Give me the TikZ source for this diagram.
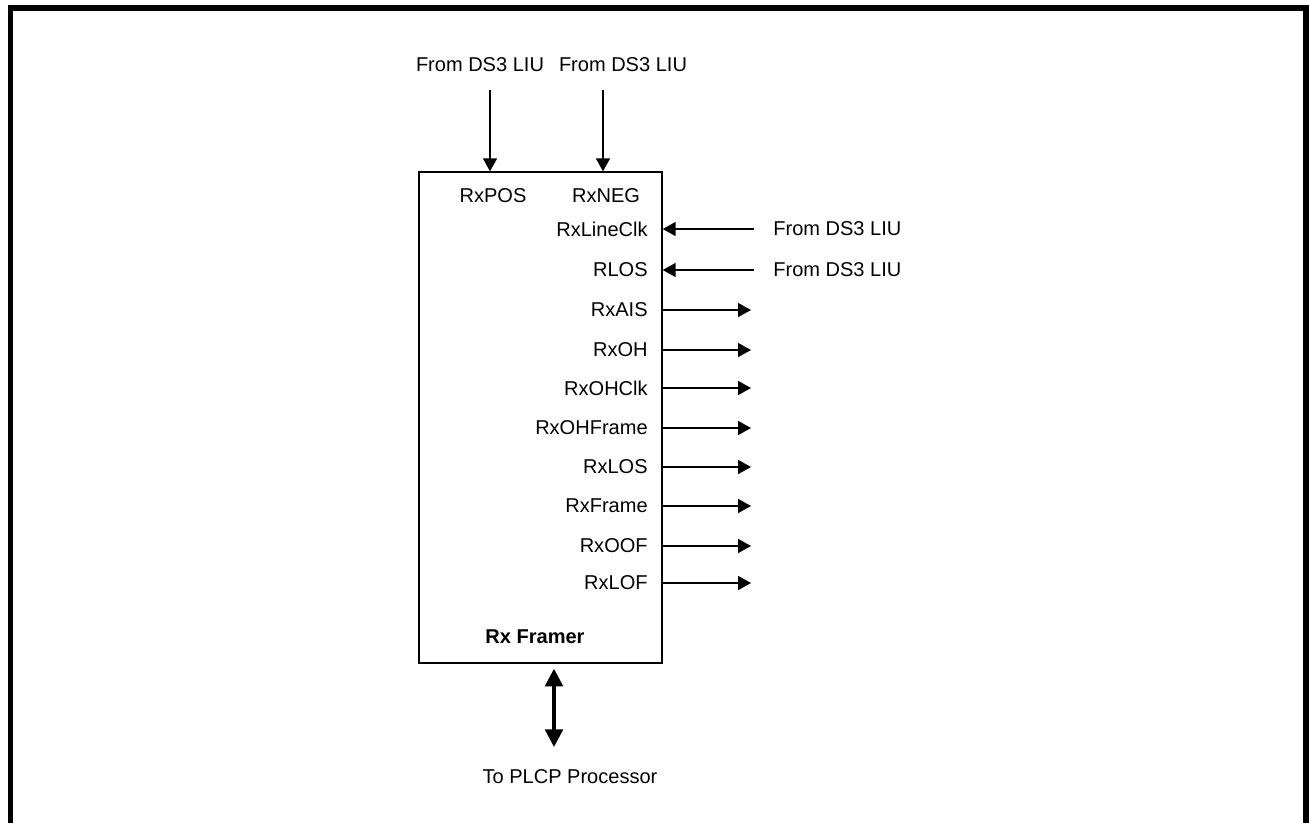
\documentclass[tikz,border=0pt]{standalone}
\usepackage{fontspec}
\setmainfont{Liberation Sans}
\usetikzlibrary{arrows.meta,positioning,calc}
\tikzset{
  sigln/.style={-{Triangle[length=7.4pt,width=8pt]}, line width=0.85pt},
  busln/.style={{Triangle[length=10pt,width=10pt]}-{Triangle[length=10pt,width=10pt]}, line width=1.9pt},
  framebox/.style={draw, line width=0.85pt, minimum width=4.86cm, minimum height=9.82cm},
  pin/.style={inner sep=0pt},
}
\begin{document}
\fontsize{11.4}{13.7}\selectfont
\begin{tikzpicture}[x=0.02cm,y=-0.02cm]
  \useasboundingbox (0,0) rectangle (1309,822);
  % outer frame, open at the bottom
  \draw[line width=3.4pt] (10.5,840) -- (10.5,8) -- (1306,8) -- (1306,840);
  % the framer block
  \node[framebox] (framer) at (540.5,417.5) {};
  \node[pin,font=\bfseries] (title) at (535,637) {Rx Framer};
  % line inputs from the top
  \node[pin] (posin) at (480,65) {From DS3 LIU};
  \node[pin] (negin) at (623,65) {From DS3 LIU};
  \node[pin] (pos) at (493,196) {RxPOS};
  \node[pin] (neg) at (606,196) {RxNEG};
  \coordinate (posstart) at (490,90);
  \coordinate (negstart) at (603,90);
  \draw[sigln] (posstart) -- (posstart |- framer.north);
  \draw[sigln] (negstart) -- (negstart |- framer.north);
  % inputs from the right
  \foreach \name/\y in {RxLineClk/229, RLOS/270} {
    \node[pin,anchor=east] (\name) at (648,\y) {\name};
    \node[pin,anchor=west] (src\name) at (773,\y) {From DS3 LIU};
    \coordinate (in\name) at (754,\y);
    \draw[sigln] (in\name) -- (framer.east |- \name);
  }
  % outputs
  \foreach \name/\y in {RxAIS/310, RxOH/350, RxOHClk/388, RxOHFrame/428,
      RxLOS/467, RxFrame/506, RxOOF/546, RxLOF/583} {
    \node[pin,anchor=east] (\name) at (648,\y) {\name};
    \coordinate (out\name) at (751,\y);
    \draw[sigln] (framer.east |- \name) -- (out\name);
  }
  % bus to the PLCP processor
  \node[pin] (plcp) at (570,777) {To PLCP Processor};
  \coordinate (busend) at (554,747);
  \draw[busln] ($(framer.south -| busend)+(0,5)$) -- (busend);
\end{tikzpicture}
\end{document}
